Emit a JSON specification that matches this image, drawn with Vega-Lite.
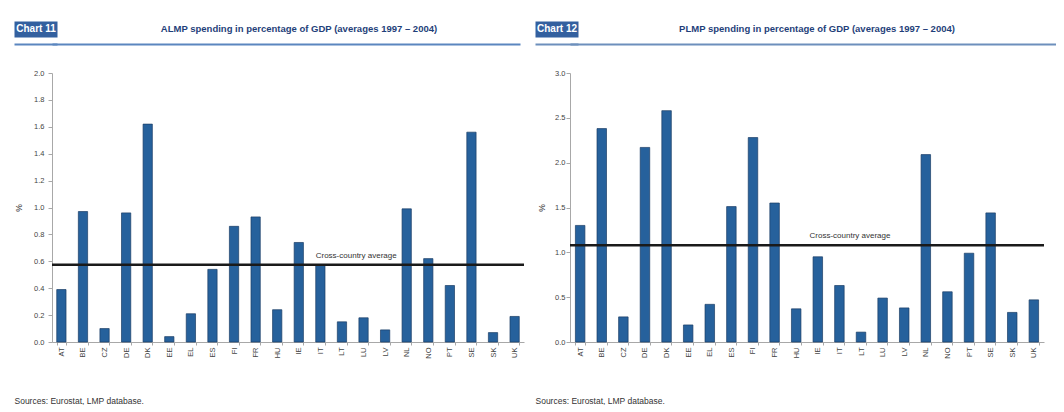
{
  "$schema": "https://vega.github.io/schema/vega-lite/v6.json",
  "padding": {"left": 6, "top": 21, "right": 0, "bottom": 0},
  "background": "white",
  "config": {
    "view": {"stroke": null},
    "font": "Liberation Sans",
    "axis": {"grid": false, "domainColor": "#a8a8a8", "tickColor": "#a8a8a8", "labelColor": "#444444", "titleColor": "#333333", "titleFontWeight": "normal", "labelFont": "Liberation Sans", "titleFont": "Liberation Sans", "labelOverlap": false}
  },
  "datasets": {
    "almp": [
      {"country": "AT", "value": 0.39}, {"country": "BE", "value": 0.97}, {"country": "CZ", "value": 0.10},
      {"country": "DE", "value": 0.96}, {"country": "DK", "value": 1.62}, {"country": "EE", "value": 0.04},
      {"country": "EL", "value": 0.21}, {"country": "ES", "value": 0.54}, {"country": "FI", "value": 0.86},
      {"country": "FR", "value": 0.93}, {"country": "HU", "value": 0.24}, {"country": "IE", "value": 0.74},
      {"country": "IT", "value": 0.57}, {"country": "LT", "value": 0.15}, {"country": "LU", "value": 0.18},
      {"country": "LV", "value": 0.09}, {"country": "NL", "value": 0.99}, {"country": "NO", "value": 0.62},
      {"country": "PT", "value": 0.42}, {"country": "SE", "value": 1.56}, {"country": "SK", "value": 0.07},
      {"country": "UK", "value": 0.19}
    ],
    "almpAvg": [{"label": "Cross-country average", "value": 0.575}],
    "plmp": [
      {"country": "AT", "value": 1.30}, {"country": "BE", "value": 2.38}, {"country": "CZ", "value": 0.28},
      {"country": "DE", "value": 2.17}, {"country": "DK", "value": 2.58}, {"country": "EE", "value": 0.19},
      {"country": "EL", "value": 0.42}, {"country": "ES", "value": 1.51}, {"country": "FI", "value": 2.28},
      {"country": "FR", "value": 1.55}, {"country": "HU", "value": 0.37}, {"country": "IE", "value": 0.95},
      {"country": "IT", "value": 0.63}, {"country": "LT", "value": 0.11}, {"country": "LU", "value": 0.49},
      {"country": "LV", "value": 0.38}, {"country": "NL", "value": 2.09}, {"country": "NO", "value": 0.56},
      {"country": "PT", "value": 0.99}, {"country": "SE", "value": 1.44}, {"country": "SK", "value": 0.33},
      {"country": "UK", "value": 0.47}
    ],
    "plmpAvg": [{"label": "Cross-country average", "value": 1.078}]
  },
  "spacing": 1,
  "hconcat": [
    {
      "spacing": 17,
      "vconcat": [
        {
          "data": {"values": [{"badge": "Chart 11", "title": "ALMP spending in percentage of GDP (averages 1997 – 2004)"}]},
          "width": 468, "height": 30.5,
          "mark": {"type": "text", "color": "#1f3f7a", "fontSize": 9.5, "fontWeight": "bold", "dx": 13},
          "encoding": {
            "y": {
              "field": "badge", "type": "nominal",
              "scale": {"type": "point", "domain": ["Chart 11", ""], "padding": 0.55},
              "axis": {
                "title": null, "domain": false, "offset": -5, "tickSize": 43,
                "tickWidth": {"condition": {"test": "datum.value === 'Chart 11'", "value": 16}, "value": 2},
                "tickColor": {"condition": {"test": "datum.value === 'Chart 11'", "value": "#33609f"}, "value": "#5b86bf"},
                "grid": true, "gridColor": "#5b86bf", "gridWidth": 2,
                "gridOpacity": {"condition": {"test": "datum.value === 'Chart 11'", "value": 0}, "value": 1},
                "labelColor": "white", "labelFontWeight": "bold", "labelFontSize": 10,
                "labelAlign": "center", "labelBaseline": "middle", "labelPadding": -21.5
              }
            },
            "text": {"field": "title"}
          }
        },
        {
          "width": 472, "height": 269,
          "layer": [
            {
              "data": {"name": "almp"},
              "mark": {"type": "bar", "color": "#26619c", "stroke": "#1b3e66", "strokeWidth": 0.7},
              "encoding": {
                "x": {
                  "field": "country", "type": "nominal", "sort": null,
                  "scale": {"paddingInner": 0.57, "paddingOuter": 0.22},
                  "axis": {
                    "title": "Sources: Eurostat, LMP database.", "titleX": -38, "titleY": 61,
                    "titleAlign": "left", "titleBaseline": "alphabetic", "titleFontSize": 8.5,
                    "labelAngle": 270, "labelFontSize": 7.5, "labelPadding": 2, "tickSize": 3, "tickBand": "extent"
                  }
                },
                "y": {
                  "field": "value", "type": "quantitative",
                  "scale": {"domain": [0, 2]},
                  "axis": {
                    "title": "%", "titleX": -29, "titleFontSize": 8.5,
                    "values": [0, 0.2, 0.4, 0.6, 0.8, 1.0, 1.2, 1.4, 1.6, 1.8, 2.0], "tickCount": 11,
                    "format": ".1f", "labelFontSize": 7.5, "tickSize": 4, "labelPadding": 4
                  }
                }
              }
            },
            {
              "data": {"name": "almpAvg"},
              "mark": {"type": "rule", "color": "#1a1a1a", "strokeWidth": 2.5},
              "encoding": {"y": {"field": "value", "type": "quantitative"}}
            },
            {
              "data": {"name": "almpAvg"},
              "mark": {"type": "text", "align": "left", "baseline": "bottom", "dy": -5, "fontSize": 8, "color": "#333333"},
              "encoding": {
                "x": {"datum": "IT", "type": "nominal", "bandPosition": 0},
                "y": {"field": "value", "type": "quantitative"},
                "text": {"field": "label"}
              }
            }
          ]
        }
      ]
    },
    {
      "spacing": 17,
      "vconcat": [
        {
          "data": {"values": [{"badge": "Chart 12", "title": "PLMP spending in percentage of GDP (averages 1997 – 2004)"}]},
          "width": 486, "height": 30.5,
          "mark": {"type": "text", "color": "#1f3f7a", "fontSize": 9.5, "fontWeight": "bold", "dx": 4},
          "encoding": {
            "y": {
              "field": "badge", "type": "nominal",
              "scale": {"type": "point", "domain": ["Chart 12", ""], "padding": 0.55},
              "axis": {
                "title": null, "domain": false, "offset": -8, "tickSize": 43,
                "tickWidth": {"condition": {"test": "datum.value === 'Chart 12'", "value": 16}, "value": 2},
                "tickColor": {"condition": {"test": "datum.value === 'Chart 12'", "value": "#33609f"}, "value": "#6d8fbc"},
                "grid": true, "gridColor": "#6d8fbc", "gridWidth": 2,
                "gridOpacity": {"condition": {"test": "datum.value === 'Chart 12'", "value": 0}, "value": 1},
                "labelColor": "white", "labelFontWeight": "bold", "labelFontSize": 10,
                "labelAlign": "center", "labelBaseline": "middle", "labelPadding": -21.5
              }
            },
            "text": {"field": "title"}
          }
        },
        {
          "width": 474, "height": 269,
          "layer": [
            {
              "data": {"name": "plmp"},
              "mark": {"type": "bar", "color": "#26619c", "stroke": "#1b3e66", "strokeWidth": 0.7},
              "encoding": {
                "x": {
                  "field": "country", "type": "nominal", "sort": null,
                  "scale": {"paddingInner": 0.56, "paddingOuter": 0.25},
                  "axis": {
                    "title": "Sources: Eurostat, LMP database.", "titleX": -35, "titleY": 61,
                    "titleAlign": "left", "titleBaseline": "alphabetic", "titleFontSize": 8.5,
                    "labelAngle": 270, "labelFontSize": 7.5, "labelPadding": 2, "tickSize": 3, "tickBand": "extent"
                  }
                },
                "y": {
                  "field": "value", "type": "quantitative",
                  "scale": {"domain": [0, 3]},
                  "axis": {
                    "title": "%", "titleX": -24, "titleFontSize": 8.5,
                    "values": [0, 0.5, 1.0, 1.5, 2.0, 2.5, 3.0], "tickCount": 7,
                    "format": ".1f", "labelFontSize": 7.5, "tickSize": 4, "labelPadding": 1
                  }
                }
              }
            },
            {
              "data": {"name": "plmpAvg"},
              "mark": {"type": "rule", "color": "#1a1a1a", "strokeWidth": 2.5},
              "encoding": {"y": {"field": "value", "type": "quantitative"}}
            },
            {
              "data": {"name": "plmpAvg"},
              "mark": {"type": "text", "align": "left", "baseline": "bottom", "dy": -5, "fontSize": 8, "color": "#333333"},
              "encoding": {
                "x": {"datum": "HU", "type": "nominal", "bandPosition": 1.9},
                "y": {"field": "value", "type": "quantitative"},
                "text": {"field": "label"}
              }
            }
          ]
        }
      ]
    }
  ]
}
